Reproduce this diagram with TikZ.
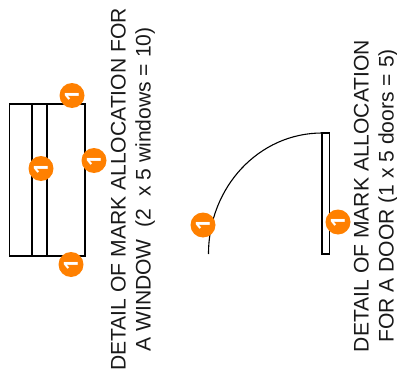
\documentclass[tikz,border=0pt]{standalone}
\usepackage{fontspec}
\setmainfont{Liberation Sans}
\newfontfamily\badgefont{Open Sans}
\definecolor{badgeor}{RGB}{255,128,0}
\tikzset{
  x=1pt,y=-1pt,
  ln/.style={draw=black,line width=1.1pt},
  badge/.style={circle,fill=badgeor,minimum size=25pt,inner sep=0pt,text=white,font=\badgefont\bfseries\fontsize{19.5}{19.5}\selectfont,rotate=90},
  lbl/.style={rotate=90,align=center,font=\fontsize{21.1}{25}\selectfont,text=black!90}
}
\begin{document}
\begin{tikzpicture}
\useasboundingbox (0,0) rectangle (397,383);
\draw[ln] (9.5,104) rectangle (85,256);
\coordinate (wt1) at (32,104); \coordinate (wb1) at (32,256);
\coordinate (wt2) at (47,104); \coordinate (wb2) at (47,256);
\draw[ln] (wt1) -- (wb1);
\draw[ln] (wt2) -- (wb2);
\draw[ln] (322,133) rectangle (329.5,254);
\coordinate (arcA) at (322,133); \coordinate (arcB) at (208.5,254);
\draw[ln] (arcB) .. controls (208.5,187) and (259,133) .. (arcA);
\node[badge] (b1) at (72,95.5) {1};
\node[badge] (b2) at (94,160.5) {1};
\node[badge] (b3) at (41,168.5) {1};
\node[badge] (b4) at (71,264.5) {1};
\node[badge] (b5) at (203,225) {1};
\node[badge] (b6) at (338,222) {1};
\node[lbl] (t1) at (133,189.5) {DETAIL OF MARK ALLOCATION FOR\\A WINDOW~~(2~~x 5 windows = 10)};
\node[lbl] (t2) at (376,196) {DETAIL OF MARK ALLOCATION\\FOR A DOOR (1 x 5 doors = 5)};
\end{tikzpicture}
\end{document}
